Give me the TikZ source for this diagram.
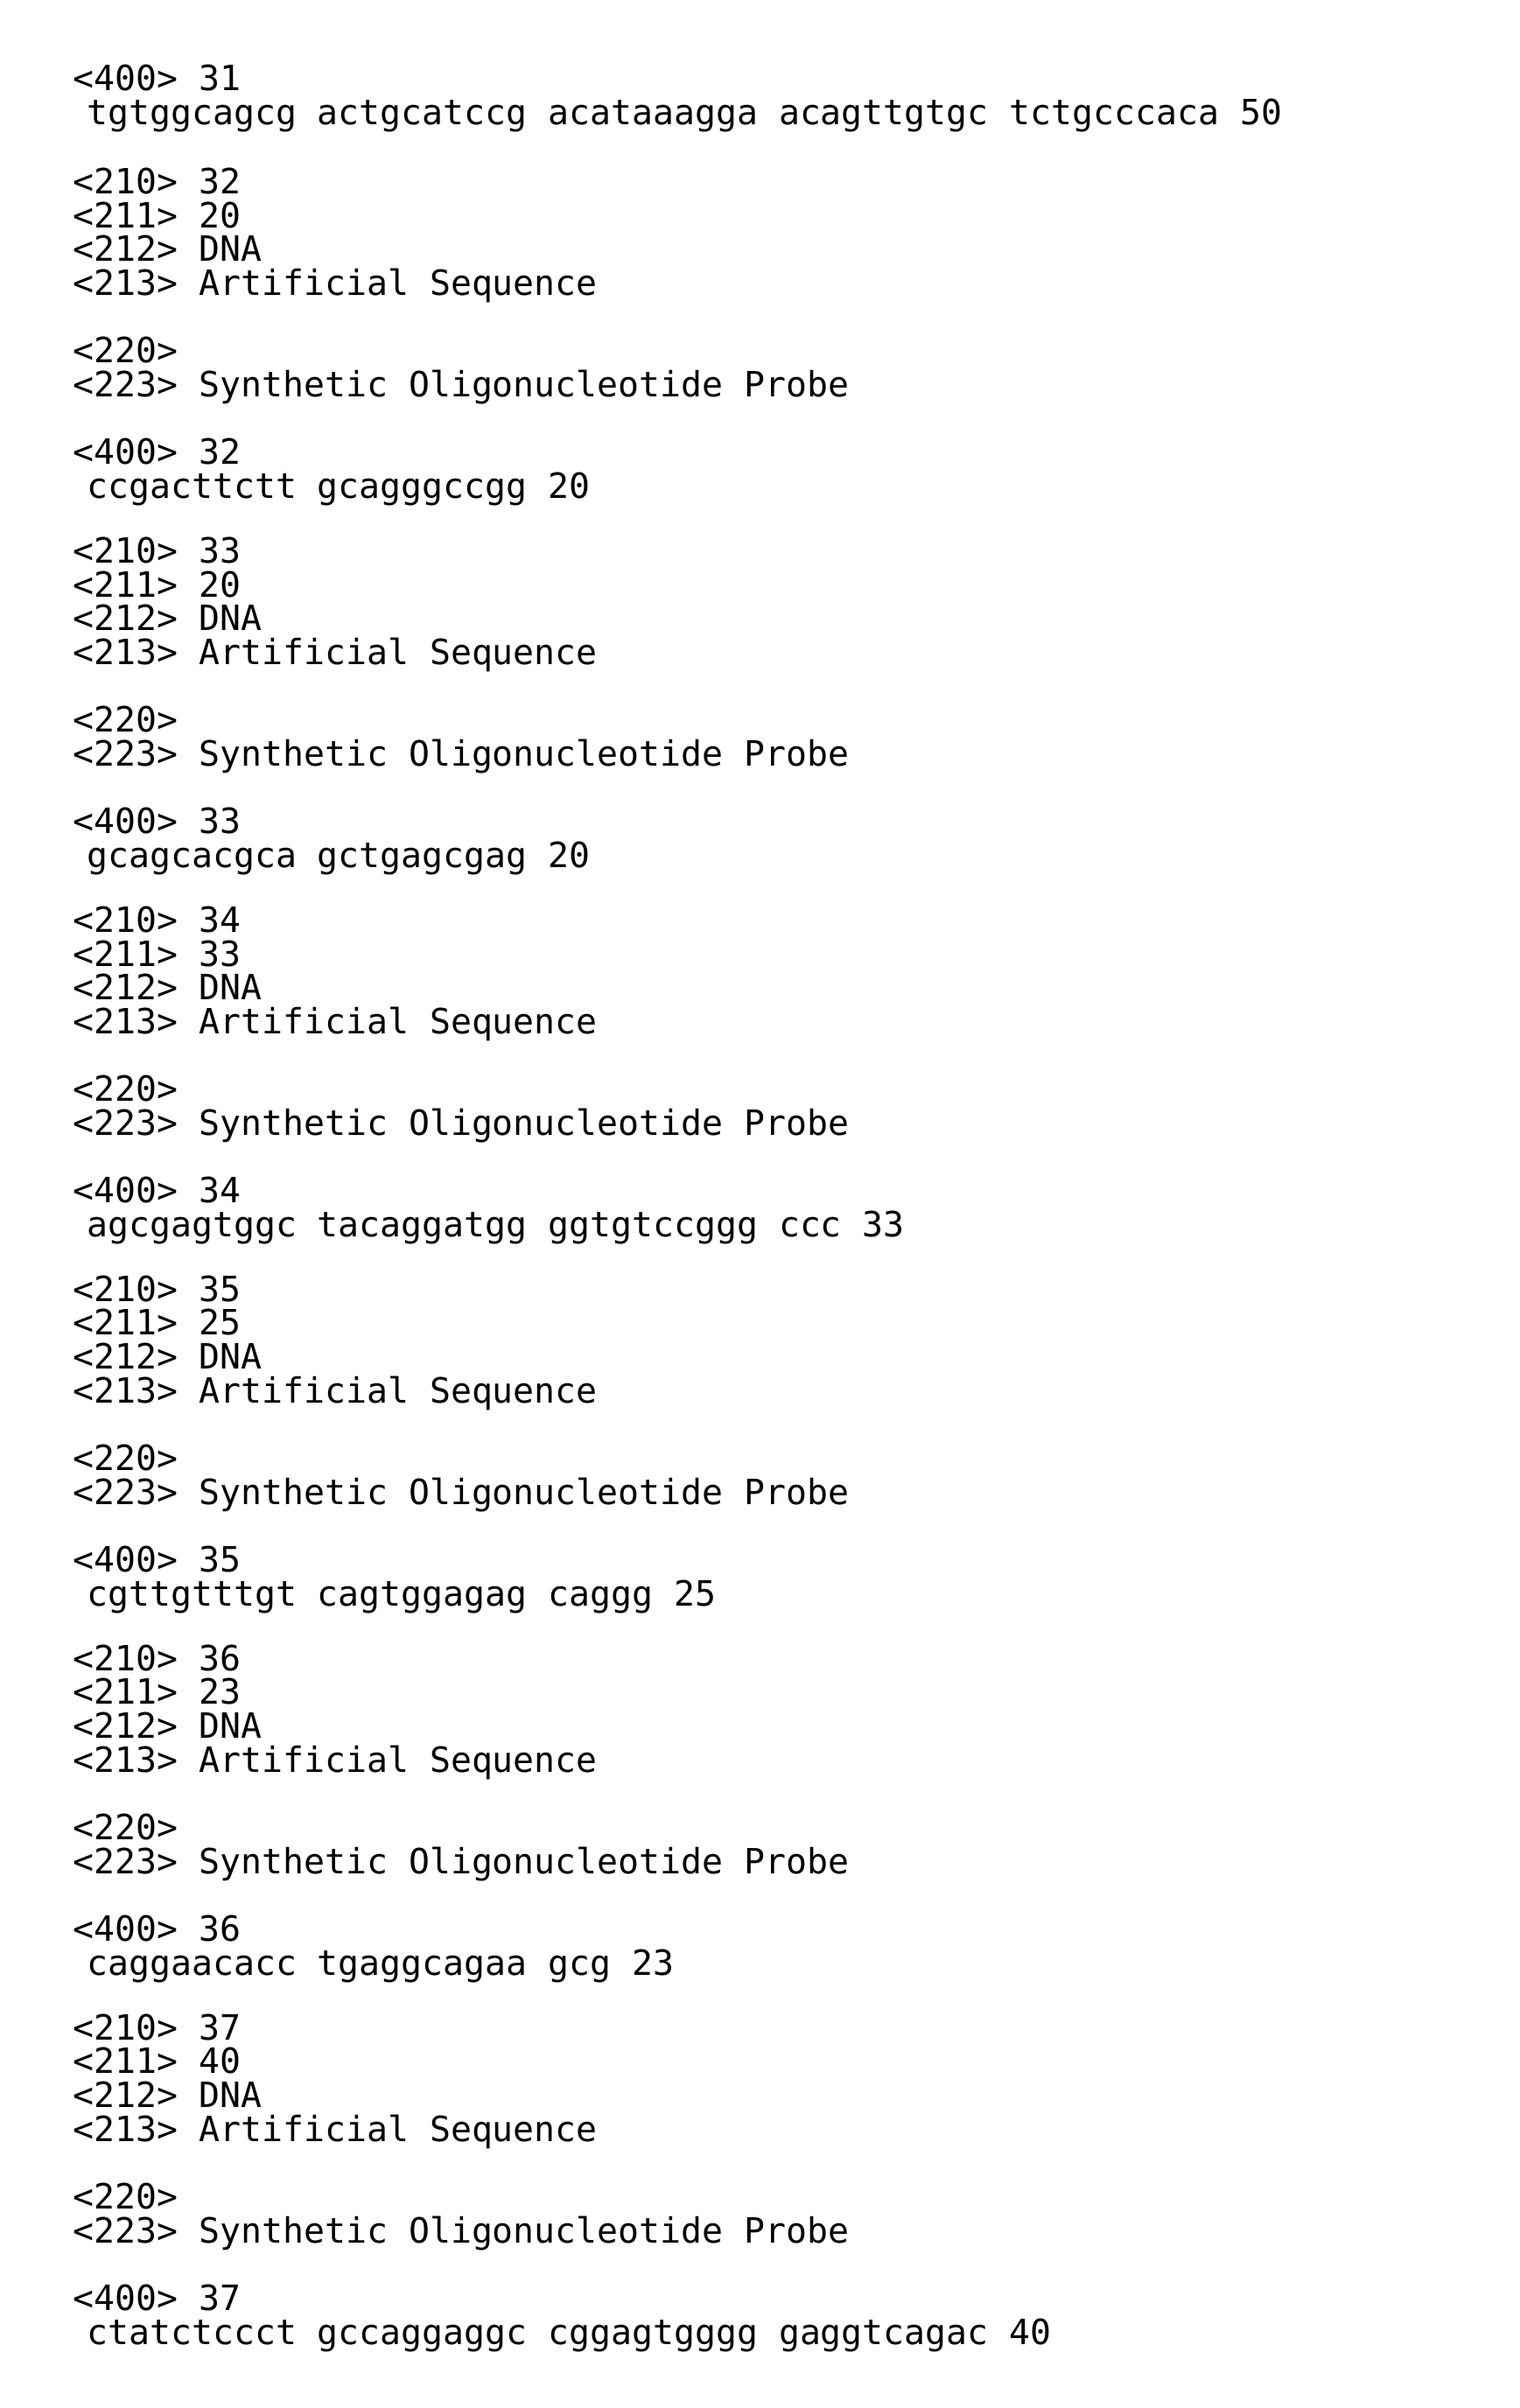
\documentclass[tikz,border=0pt]{standalone}
\usepackage{fontspec}
\setmonofont{DejaVu Sans Mono}
\begin{document}
\begin{tikzpicture}[x=1pt,y=1pt,
  txt/.style={anchor=base west,inner sep=0pt,font=\ttfamily\fontsize{19.9}{20}\selectfont}]
\useasboundingbox (0,0) rectangle (868,-1376);
\def\tx{41.7}\def\sx{49.5}\def\f{0.879}
\node[txt] (h31) at (\tx,{-59*\f}) {<400> 31};
\node[txt] (s31) at (\sx,{-81*\f}) {tgtggcagcg actgcatccg acataaagga acagttgtgc tctgcccaca 50};
\foreach \k/\len/\seq in {32/20/{ccgacttctt gcagggccgg 20},
  33/20/{gcagcacgca gctgagcgag 20},
  34/33/{agcgagtggc tacaggatgg ggtgtccggg ccc 33},
  35/25/{cgttgtttgt cagtggagag caggg 25},
  36/23/{caggaacacc tgaggcagaa gcg 23},
  37/40/{ctatctccct gccaggaggc cggagtgggg gaggtcagac 40}}{
  \pgfmathsetmacro{\yy}{-(126+(\k-32)*240)*\f}
  \node[txt] (a\k) at (\tx,\yy) {<210> \k};
  \node[txt] (b\k) at (\tx,\yy-22*\f) {<211> \len};
  \node[txt] (c\k) at (\tx,\yy-44*\f) {<212> DNA};
  \node[txt] (d\k) at (\tx,\yy-66*\f) {<213> Artificial Sequence};
  \node[txt] (e\k) at (\tx,\yy-110*\f) {<220>};
  \node[txt] (f\k) at (\tx,\yy-132*\f) {<223> Synthetic Oligonucleotide Probe};
  \node[txt] (g\k) at (\tx,\yy-176*\f) {<400> \k};
  \node[txt] (q\k) at (\sx,\yy-198*\f) {\seq};
}
\end{tikzpicture}
\end{document}
